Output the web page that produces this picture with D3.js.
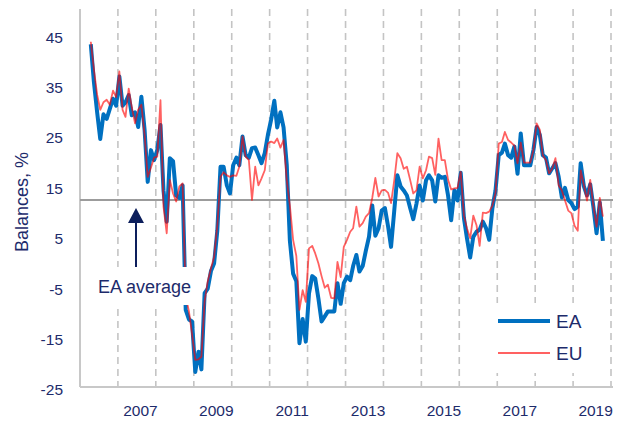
<!DOCTYPE html>
<html>
<head>
<meta charset="utf-8">
<script src="https://cdn.jsdelivr.net/npm/d3@7"></script>
<style>
    body { margin: 0; background: #fff; }
    svg { display: block; font-family: "Liberation Sans", Arial, sans-serif; }
</style>
</head>
<body>
<script>
// Monthly balances, Apr 2006 .. Oct 2019 (one row per year)
var firstMonth = new Date(2006, 3, 15)

var eaValues = [
    43, 35.5, 29.5, 24.2, 29.1, 28.2, 30.2, 32.2, 30.8,
    36.6, 30.8, 31.5, 32.9, 28.9, 29.5, 26.6, 32.6, 26, 15.7, 22, 20,
    22, 27, 14, 7.8, 20.4, 19.8, 13, 12.5, 15, -9.7, -11.6, -12,
    -22, -18, -21.5, -6.4, -5.5, -2, -0.5, 6, 18.7, 18.7, 15, 13.4,
    19, 20.5, 19, 24.7, 21, 20.5, 22.4, 22.5, 21, 19.4, 21.4, 25,
    28, 31.8, 26.5, 29.5, 26.5, 19, 4, -2.5, -4, -16.3, -11.5, -16,
    -6.4, -3, -3.5, -7.5, -12, -11, -10, -10, -10, -4.4, -8.5, -4.4,
    -3.1, -3.8, -1, 1.2, -2.1, -1, 2, 4.8, 11, 5, 6.5, 10,
    10.5, 6.8, 2.8, 10, 17, 14.8, 14, 13, 10.5, 8.3, 11.4, 15,
    12, 16, 17, 16, 11.8, 17, 16.5, 16.7, 13, 8.1, 14, 12,
    17.5, 8.5, 4.5, 0.7, 4.8, 5.8, 6.2, 7.8, 6.5, 4.2, 10.5, 14,
    21, 21.5, 23.3, 21, 20.5, 22.7, 17.3, 25.3, 19, 19, 19, 22,
    26.6, 25, 21, 20.5, 17.4, 18.4, 19.4, 16.7, 12.6, 14.5, 12.1, 11.5,
    10.3, 10.8, 19.4, 14.8, 13, 15.2, 10.8, 5.5, 11.6, 4
]

var euValues = [
    43.5, 38, 33, 30, 31.5, 32, 31, 33.8, 32.5,
    37.6, 30, 28.6, 34.2, 30.5, 27.3, 30, 31, 25, 16.7, 18.5, 20.5,
    20.7, 31.9, 10.8, 5.5, 16.1, 13.4, 11.8, 14.8, 15.4, -7, -10, -14.5,
    -19.6, -19.5, -19, -8, -4, -1.5, 0.8, 7, 16.7, 17.6, 17, 16.7,
    17, 16.9, 18.7, 24.7, 20.7, 20, 12.1, 18.7, 15, 16.4, 18, 23.3,
    23.7, 23.4, 24.3, 22.5, 24, 16, 11, 4.2, 1, -9.7, -5.8, -8.1,
    2.5, 3, 1.5, -0.5, -3, -5.3, -4.7, -7.3, -7.4, -0.2, -3.2, 2.8,
    4.2, 5.8, 6.5, 10.8, 6.8, 7.5, 8.8, 9.5, 12.5, 16.5, 12.8, 14,
    14.1, 13.5, 11.5, 16, 21.4, 20.4, 18.3, 18.7, 16.1, 13.4, 14, 18.7,
    16.4, 18, 20.7, 20.4, 17.1, 24.3, 20, 20, 16.1, 14.2, 14.4, 14.5,
    17.7, 9, 6.5, 4.5, 9, 7.1, 3, 9.6, 9.5, 9.8, 11, 13.5,
    23.3, 23.6, 25.6, 24, 23.5, 22.9, 19.4, 23.5, 19.5, 19.5, 19.5, 22,
    27.3, 26, 21, 20, 17.4, 18.4, 20.4, 15, 14, 12, 10, 9.5,
    7, 6, 18, 15, 12, 16.1, 11, 6.8, 12.5, 8.8
]

var eaAverage = 12.1
var yTicks = [-25, -15, -5, 5, 15, 25, 35, 45]
var labelYears = [2007, 2009, 2011, 2013, 2015, 2017, 2019]
var gridYears = [2007, 2008, 2009, 2010, 2011, 2012, 2013, 2014, 2015, 2016, 2017, 2018, 2019, 2020]
var seriesNames = ['EA', 'EU']

function main() {
    var svgWidth = 623, svgHeight = 428
    var textColor = '#1d2b6b'
    var blue = '#0070c0', red = '#ff0000'

    var svg = d3.select('body').append('svg')
        .attr('width', svgWidth)
        .attr('height', svgHeight)

    var x = d3.scaleTime()
        .domain([new Date(2006, 0, 1), new Date(2020, 0, 1)])
        .range([80, 611])
    var y = d3.scaleLinear().domain([-25, 50]).range([387, 9])

    function monthDate(i) {
        return new Date(firstMonth.getFullYear(), firstMonth.getMonth() + i, 15)
    }

    // dashed year separators
    svg.append('g').selectAll('line')
        .data(gridYears)
        .enter().append('line')
        .attr('x1', function(d) { return x(new Date(d, 0, 1)) })
        .attr('x2', function(d) { return x(new Date(d, 0, 1)) })
        .attr('y1', y(50)).attr('y2', y(-25))
        .attr('stroke', '#c4c4c4')
        .attr('stroke-width', 1.6)
        .attr('stroke-dasharray', '7,5')

    // axis lines
    svg.append('line')
        .attr('x1', 80).attr('x2', 80)
        .attr('y1', y(50)).attr('y2', y(-25))
        .attr('stroke', '#c8c8c8').attr('stroke-width', 2)
    svg.append('line')
        .attr('x1', 80).attr('x2', 613)
        .attr('y1', y(-25)).attr('y2', y(-25))
        .attr('stroke', '#c8c8c8').attr('stroke-width', 2)

    // EA average line
    svg.append('line')
        .attr('x1', 80).attr('x2', 613)
        .attr('y1', y(eaAverage)).attr('y2', y(eaAverage))
        .attr('stroke', '#9c9c9c').attr('stroke-width', 2)

    // y axis labels (plain hyphen for negatives)
    var yAxis = svg.append('g')
        .attr('transform', 'translate(80, 0)')
        .call(d3.axisLeft(y).tickValues(yTicks)
            .tickFormat(function(d) { return String(d) })
            .tickSize(0).tickPadding(17))
    yAxis.select('.domain').remove()
    yAxis.selectAll('text')
        .attr('transform', 'translate(0, 3)')
        .attr('font-size', '15.5px')
        .attr('font-family', '"Liberation Sans", Arial, sans-serif')
        .attr('fill', textColor)

    // x axis labels, in the middle of the year
    var xAxis = svg.append('g')
        .attr('transform', 'translate(0, ' + y(-25) + ')')
        .call(d3.axisBottom(x)
            .tickValues(labelYears.map(function(d) { return new Date(d, 7, 1) }))
            .tickFormat(d3.timeFormat('%Y'))
            .tickSize(0).tickPadding(18))
    xAxis.select('.domain').remove()
    xAxis.selectAll('text')
        .attr('font-size', '15.5px')
        .attr('font-family', '"Liberation Sans", Arial, sans-serif')
        .attr('fill', textColor)

    // y title
    svg.append('text')
        .attr('transform', 'translate(28, 202) rotate(-90)')
        .attr('text-anchor', 'middle')
        .attr('font-size', '18px')
        .attr('fill', textColor)
        .text('Balances, %')

    // lines
    var line = d3.line()
        .x(function(d, i) { return x(monthDate(i)) })
        .y(function(d) { return y(d) })

    svg.append('path')
        .datum(eaValues)
        .attr('d', line)
        .attr('fill', 'none')
        .attr('stroke', blue)
        .attr('stroke-width', 4)
        .attr('stroke-linejoin', 'round')

    svg.append('path')
        .datum(euValues)
        .attr('d', line)
        .attr('fill', 'none')
        .attr('stroke', red)
        .attr('stroke-opacity', 0.62)
        .attr('stroke-width', 1.8)
        .attr('stroke-linejoin', 'round')

    // EA average label and arrow
    svg.append('rect')
        .attr('x', 95).attr('y', 267).attr('width', 102).attr('height', 38)
        .attr('fill', '#fff')
    svg.append('text')
        .attr('x', 98).attr('y', 293)
        .attr('font-size', '18px')
        .attr('fill', textColor)
        .text('EA average')
    svg.append('line')
        .attr('x1', 136).attr('x2', 136)
        .attr('y1', 267).attr('y2', 220)
        .attr('stroke', '#0d1f5c').attr('stroke-width', 2)
    svg.append('path')
        .attr('d', 'M128,223 L144,223 L136,208 Z')
        .attr('fill', '#0d1f5c')

    // legend
    var legend = svg.append('g')
    legend.append('rect')
        .attr('x', 496).attr('y', 303).attr('width', 112).attr('height', 70)
        .attr('fill', '#fff')
    var items = legend.selectAll('.item')
        .data(seriesNames)
        .enter().append('g')
        .attr('class', 'item')
        .attr('transform', function(d, i) { return 'translate(0, ' + (321 + i * 32) + ')' })
    items.append('line')
        .attr('x1', 498).attr('x2', 550)
        .attr('stroke', function(d, i) { return i === 0 ? blue : red })
        .attr('stroke-opacity', function(d, i) { return i === 0 ? 1 : 0.62 })
        .attr('stroke-width', function(d, i) { return i === 0 ? 4 : 1.8 })
    items.append('text')
        .attr('x', 556)
        .attr('dy', '0.35em')
        .attr('font-size', '19px')
        .attr('fill', textColor)
        .text(function(d) { return d })
}

main()
</script>
</body>
</html>
